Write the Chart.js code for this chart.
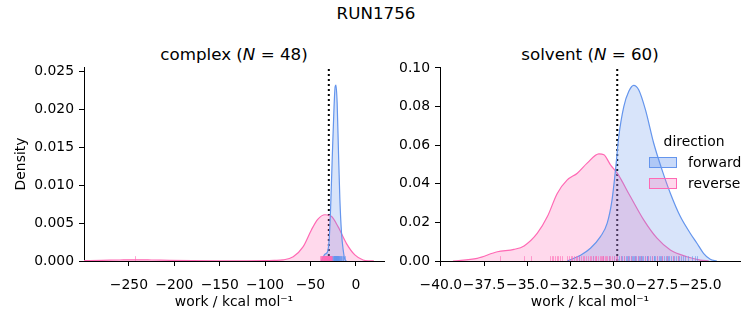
<!DOCTYPE html>
<html>
<head>
<meta charset="utf-8">
<script src="https://cdn.jsdelivr.net/npm/chart.js@4.4.1/dist/chart.umd.min.js"></script>
<style>
  body { margin: 0; background: #fff; font-family: "DejaVu Sans", sans-serif; }
  #wrap { position: relative; width: 753px; height: 325px; overflow: hidden; }
  canvas { position: absolute; }
  .lbl { position: absolute; transform: translate(-50%, -50%); white-space: nowrap; color: #000; }
  .txt { position: absolute; transform: translateY(-50%); white-space: nowrap; color: #000; font-size: 13.9px; }
  .patch { position: absolute; width: 26px; height: 9px; }
</style>
</head>
<body>
<div id="wrap">
  <div class="lbl" style="left:376px;top:13px;font-size:16.7px">RUN1756</div>
  <div class="lbl" style="left:234px;top:54px;font-size:16.7px">complex (<i>N</i> = 48)</div>
  <div class="lbl" style="left:590px;top:54px;font-size:16.7px">solvent (<i>N</i> = 60)</div>
  <canvas id="complexChart" width="390" height="285" style="left:0;top:40px"></canvas>
  <canvas id="solventChart" width="363" height="285" style="left:390px;top:40px"></canvas>
  <!-- legend -->
  <div class="lbl" style="left:694px;top:141px;font-size:13.9px">direction</div>
  <div class="patch" style="left:649px;top:157px;background:rgba(100,149,237,0.35);border:1px solid #6495ED"></div>
  <div class="txt" style="left:688px;top:162px">forward</div>
  <div class="patch" style="left:649px;top:178px;background:rgba(255,105,180,0.25);border:1px solid #FF69B4"></div>
  <div class="txt" style="left:688px;top:183px">reverse</div>
</div>
<script>
// KDE curves (work in kcal/mol, density)
const complexFwdX = [-38, -36, -34.2, -31.6, -29.4, -27.9, -26.1, -24.3, -22.8, -21.9, -20.6, -19.1, -17.6, -15.8, -14, -12.1, -10.3];
const complexFwdY = [0, 0.0005, 0.0009, 0.0011, 0.0028, 0.0067, 0.0133, 0.0195, 0.0230, 0.0232, 0.0208, 0.0142, 0.0081, 0.0037, 0.0015, 0.0002, 0];
const complexRevX = [-299.5, -280, -260, -243, -225, -205, -180, -150, -120, -100, -90, -80, -69, -58, -49, -42, -34, -27, -19.5, -10.3, -1.1, 8, 15.4, 20];
const complexRevY = [0.00004, 0.00008, 0.00013, 0.00016, 0.00013, 0.00008, 0.00004, 0.00002, 0.00002, 0.00004, 0.00008, 0.00015, 0.00057, 0.0019, 0.0041, 0.0055, 0.0061, 0.0059, 0.0045, 0.0023, 0.0008, 0.00013, 0.00002, 0];

const solventFwdX = [-32.7, -31.92, -31.35, -30.77, -30.38, -30.1, -29.9, -29.71, -29.42, -29.13, -28.85, -28.56, -28.17, -27.69, -27.21, -26.73, -26.15, -25.58, -25.19, -24.81, -24.42, -24.04];
const solventFwdY = [0, 0.003, 0.0066, 0.0126, 0.0196, 0.0317, 0.0472, 0.0645, 0.080, 0.0879, 0.0910, 0.0887, 0.0784, 0.061, 0.0472, 0.0351, 0.023, 0.0144, 0.0092, 0.004, 0.0009, 0];
const solventRevX = [-39.3, -37.9, -36.73, -35.77, -35.19, -34.42, -33.84, -33.27, -32.69, -32.11, -31.54, -30.86, -30.57, -30.19, -29.8, -29.04, -28.27, -27.5, -26.73, -25.77, -25.0, -24.5];
const solventRevY = [0, 0.0014, 0.0048, 0.006, 0.0078, 0.0144, 0.023, 0.035, 0.042, 0.0455, 0.0507, 0.0555, 0.055, 0.0498, 0.0455, 0.0334, 0.0213, 0.0118, 0.0057, 0.0022, 0.0005, 0];

// rug samples
const complexFwdRug = [-33.1, -31.4, -28.6, -27.2, -26.5, -25.9, -25.3, -24.8, -24.4, -24.1, -23.8, -23.5, -23.3, -23.0, -22.8, -22.6, -22.4, -22.2, -22.0, -21.9, -21.7, -21.5, -21.3, -21.1, -20.9, -20.7, -20.5, -20.2, -20.0, -19.7, -19.4, -19.1, -18.8, -18.4, -18.0, -17.5, -16.9, -16.2, -15.4, -14.5, -13.8, -12.3, -22.5, -21.0, -23.7, -19.9, -24.6, -21.8];
const complexRevRug = [-243.0, -39.6, -38.8, -38.1, -37.5, -37.0, -36.6, -36.2, -35.8, -35.5, -35.2, -34.9, -34.6, -34.3, -34.0, -33.8, -33.5, -33.3, -33.0, -32.8, -32.5, -32.3, -32.1, -31.8, -31.6, -31.4, -31.1, -30.9, -30.6, -30.4, -30.1, -29.9, -29.6, -29.3, -29.0, -28.7, -28.4, -28.1, -27.8, -27.4, -27.0, -26.7, -33.9, -32.7, -31.2, -30.0, -35.0, -36.9];
const solventFwdRug = [-32.0, -31.2, -30.6, -30.3, -30.0, -29.8, -29.6, -29.5, -29.4, -29.3, -29.2, -29.1, -29.0, -28.95, -28.9, -28.8, -28.75, -28.7, -28.6, -28.55, -28.5, -28.4, -28.35, -28.3, -28.2, -28.1, -28.0, -27.9, -27.8, -27.7, -27.6, -27.5, -27.4, -27.3, -27.2, -27.1, -27.0, -26.9, -26.8, -26.7, -26.6, -26.5, -26.4, -26.3, -26.2, -26.0, -25.9, -25.7, -25.5, -25.3, -25.2, -29.25, -28.85, -28.45, -28.05, -27.65, -27.25, -26.85, -26.1, -29.7];
const solventRevRug = [-36.6, -35.2, -34.8, -33.7, -33.6, -33.4, -33.3, -33.2, -33.1, -33.0, -32.7, -32.6, -32.5, -32.4, -32.3, -32.2, -32.0, -31.9, -31.8, -31.7, -31.6, -31.5, -31.4, -31.3, -31.2, -31.1, -31.0, -30.9, -30.8, -30.75, -30.7, -30.6, -30.5, -30.45, -30.4, -30.3, -30.2, -30.1, -30.0, -29.9, -29.8, -29.6, -29.4, -29.2, -29.0, -28.8, -28.6, -28.4, -28.2, -28.0, -27.8, -27.5, -27.2, -26.9, -26.6, -26.3, -30.65, -31.05, -32.1, -33.5];

// dotted reference line
const refWork = -29.8;

const blue = '#6495ED';
const pink = '#FF69B4';

Chart.defaults.font.family = '"DejaVu Sans", sans-serif';
Chart.defaults.font.size = 13.9;
Chart.defaults.color = '#000';

const minus = v => String(v).replace('-', '\u2212');

const rugPlugin = {
  id: 'rug',
  afterDatasetsDraw(chart, args, opts) {
    const { ctx, chartArea, scales } = chart;
    const h = (chartArea.bottom - chartArea.top) * 0.025;
    opts.sets.forEach(s => {
      ctx.save();
      ctx.strokeStyle = s.color;
      ctx.lineWidth = 1;
      s.values.forEach(v => {
        const x = Math.round(scales.x.getPixelForValue(v)) + 0.5;
        ctx.beginPath();
        ctx.moveTo(x, chartArea.bottom);
        ctx.lineTo(x, chartArea.bottom - h);
        ctx.stroke();
      });
      ctx.restore();
    });
  }
};

function pts(xs, ys) {
  return xs.map((x, i) => ({ x: x, y: ys[i] }));
}

function kde(label, xs, ys, color, fillColor) {
  return {
    label: label,
    data: pts(xs, ys),
    borderColor: color,
    backgroundColor: fillColor,
    borderWidth: 1.2,
    fill: 'origin',
    pointRadius: 0,
    cubicInterpolationMode: 'monotone'
  };
}

function makeChart(id, opt) {
  return new Chart(document.getElementById(id), {
    type: 'line',
    data: {
      datasets: [
        kde('forward', opt.fwdX, opt.fwdY, blue, 'rgba(100,149,237,0.25)'),
        kde('reverse', opt.revX, opt.revY, pink, 'rgba(255,105,180,0.25)'),
        {
          label: 'ref',
          data: [{ x: refWork, y: 0 }, { x: refWork, y: opt.yMax }],
          borderColor: '#000',
          borderWidth: 2,
          borderDash: [2, 3],
          pointRadius: 0,
          fill: false
        }
      ]
    },
    options: {
      responsive: false,
      animation: false,
      layout: { padding: { top: 27, right: opt.padRight, left: 0, bottom: 0 } },
      plugins: {
        legend: { display: false },
        tooltip: { enabled: false },
        rug: {
          sets: [
            { values: opt.fwdRug, color: 'rgba(100,149,237,0.6)' },
            { values: opt.revRug, color: 'rgba(255,105,180,0.6)' }
          ]
        }
      },
      scales: {
        x: {
          type: 'linear',
          min: opt.xMin,
          max: opt.xMax,
          afterFit: s => { s.height = 64; },
          border: { display: true, color: '#000', width: 1 },
          grid: { drawOnChartArea: false, drawTicks: true, tickLength: 5, tickColor: '#000' },
          ticks: {
            stepSize: opt.xStep,
            includeBounds: false,
            maxRotation: 0,
            autoSkip: false,
            padding: 11,
            callback: v => minus(opt.xFmt(v))
          },
          title: {
            display: true,
            text: 'work / kcal mol\u207B\u00B9',
            padding: { top: 0, bottom: 14.5 }
          }
        },
        y: {
          min: 0,
          max: opt.yMax,
          afterFit: s => { s.width = opt.yWidth; },
          border: { display: true, color: '#000', width: 1 },
          grid: { drawOnChartArea: false, drawTicks: true, tickLength: 5, tickColor: '#000' },
          ticks: {
            stepSize: opt.yStep,
            includeBounds: false,
            padding: 5,
            callback: v => opt.yFmt(v)
          },
          title: {
            display: opt.yTitle,
            text: 'Density',
            padding: { top: 12.7, bottom: 0 }
          }
        }
      }
    },
    plugins: [rugPlugin]
  });
}

makeChart('complexChart', {
  fwdX: complexFwdX, fwdY: complexFwdY, revX: complexRevX, revY: complexRevY,
  fwdRug: complexFwdRug, revRug: complexRevRug,
  xMin: -299.5, xMax: 31, xStep: 50, xFmt: v => v.toFixed(0),
  yMax: 0.0256, yStep: 0.005, yFmt: v => v.toFixed(3),
  yWidth: 84, yTitle: true, padRight: 6
});

makeChart('solventChart', {
  fwdX: solventFwdX, fwdY: solventFwdY, revX: solventRevX, revY: solventRevY,
  fwdRug: solventFwdRug, revRug: solventRevRug,
  xMin: -40.05, xMax: -22.7, xStep: 2.5, xFmt: v => v.toFixed(1),
  yMax: 0.1005, yStep: 0.02, yFmt: v => v.toFixed(2),
  yWidth: 50, yTitle: false, padRight: 13
});
</script>
</body>
</html>
